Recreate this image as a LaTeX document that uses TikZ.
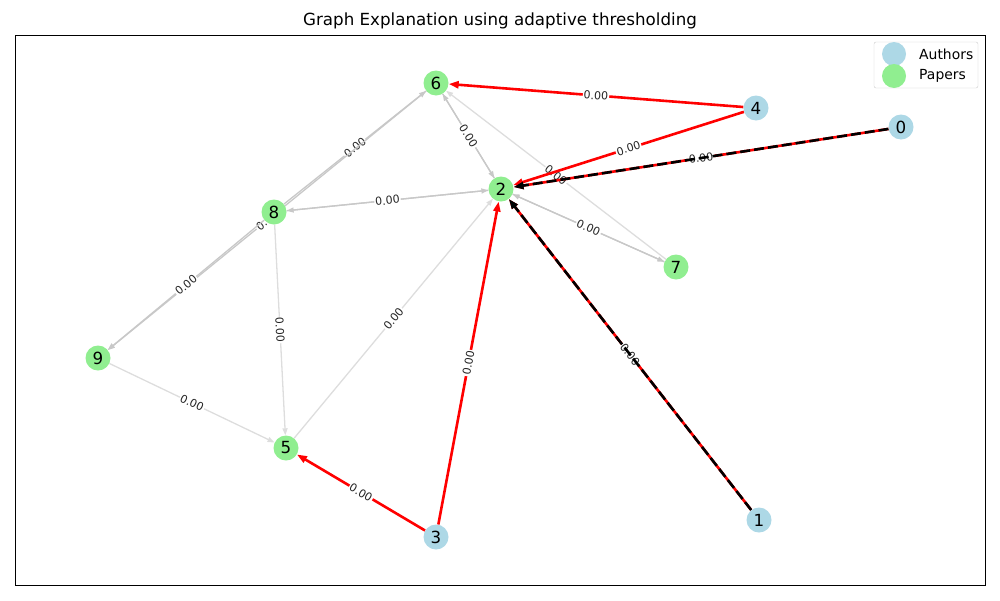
\documentclass[tikz,border=0pt]{standalone}
\usepackage{fontspec}
\setmainfont{DejaVu Sans}
\usetikzlibrary{arrows.meta,backgrounds}
\definecolor{authorblue}{HTML}{ADD8E6}
\definecolor{papergreen}{HTML}{90EE90}
\definecolor{lightedge}{HTML}{DDDDDD}
\definecolor{midedge}{HTML}{C8C8C8}
\begin{document}
\begin{tikzpicture}[x=1pt,y=-1pt,
  vtx/.style={circle,minimum size=25pt,inner sep=0pt,font=\fontsize{16.7}{18}\selectfont},
  author/.style={vtx,fill=authorblue},
  paper/.style={vtx,fill=papergreen},
  grayedge/.style={draw=midedge,line width=1.3pt,-{Triangle[length=7pt,width=5pt]}},
  lightgrayedge/.style={grayedge,draw=lightedge},
  rededge/.style={draw=red,line width=2.6pt,-{Triangle[length=10pt,width=7pt]}},
  blackdash/.style={draw=black,line width=2.6pt,dash pattern=on 10pt off 4pt,-{Triangle[length=10pt,width=7pt]}},
  elabel/.style={midway,sloped,fill=white,inner sep=1pt,text=black!85,font=\fontsize{11}{12}\selectfont},
  titlestyle/.style={font=\fontsize{16.7}{20}\selectfont},
  legtext/.style={anchor=west,font=\fontsize{13.9}{16}\selectfont,inner sep=0pt}
]
\useasboundingbox (0,0) rectangle (1000,600);
\node[titlestyle] (title) at (500,21) {Graph Explanation using adaptive thresholding};

% nodes
\node[author] (n0) at (901,127) {0};
\node[author] (n1) at (759,520) {1};
\node[paper]  (n2) at (501,189) {2};
\node[author] (n3) at (436,537) {3};
\node[author] (n4) at (756,108) {4};
\node[paper]  (n5) at (286,448) {5};
\node[paper]  (n6) at (436,83)  {6};
\node[paper]  (n7) at (676,267) {7};
\node[paper]  (n8) at (274,212) {8};
\node[paper]  (n9) at (98,358)  {9};

\begin{pgfonlayer}{background}
\draw[line width=0.8pt] (15,35) rectangle (985,585);
% gray edges
\draw[grayedge] (n8) -- (n6) node[elabel] {0.00};
\draw[grayedge] (n6) -- (n2);
\draw[grayedge] (n2) -- (n6) node[elabel] {0.00};
\draw[grayedge] (n2) -- (n8);
\draw[grayedge] (n8) -- (n2) node[elabel] {0.00};
\draw[grayedge] (n2) -- (n7);
\draw[grayedge] (n7) -- (n2) node[elabel] {0.00};
\draw[lightgrayedge] (n7) -- (n6) node[elabel] {0.00};
\draw[grayedge] (n6) -- (n9) node[elabel] {0.00};
\draw[grayedge] (n8) -- (n9) node[elabel] {0.00};
\draw[lightgrayedge] (n8) -- (n5) node[elabel] {0.00};
\draw[lightgrayedge] (n9) -- (n5) node[elabel] {0.00};
\draw[lightgrayedge] (n5) -- (n2) node[elabel] {0.00};
% red edges
\draw[rededge] (n4) -- (n6) node[elabel] {0.00};
\draw[rededge] (n4) -- (n2) node[elabel] {0.00};
\draw[rededge] (n3) -- (n2) node[elabel] {0.00};
\draw[rededge] (n3) -- (n5) node[elabel] {0.00};
\draw[rededge] (n0) -- (n2) node[elabel] {0.00};
\draw[rededge] (n1) -- (n2) node[elabel] {0.00};
% black dashed overlay
\draw[blackdash] (n0) -- (n2);
\draw[blackdash] (n1) -- (n2);
\end{pgfonlayer}

% legend
\node[draw=black!20,fill=white,rounded corners=2pt,minimum width=104pt,minimum height=46pt,inner sep=0pt] (leg) at (926,65) {};
\node[author,minimum size=24pt] (legA) at (894,54) {};
\node[paper,minimum size=24pt] (legP) at (894,76) {};
\node[legtext] (legAt) at (919,54) {Authors};
\node[legtext] (legPt) at (919,76) {Papers};
\end{tikzpicture}
\end{document}
